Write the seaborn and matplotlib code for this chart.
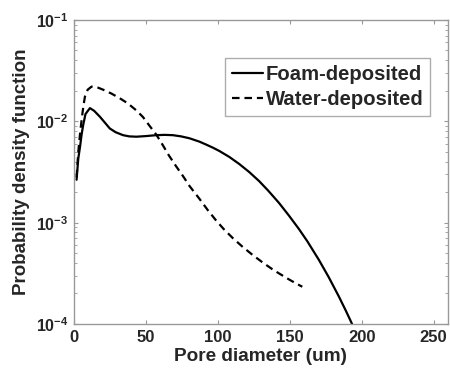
import numpy as np
import pandas as pd
import matplotlib
matplotlib.use('Agg')
import matplotlib.pyplot as plt
import seaborn as sns

# values (pore diameter in um, pdf on log scale)
foam_x = [1.8, 3.0, 4.2, 5.3, 6.4, 8.0, 11.1, 14.0, 18.0, 21.5, 24.9, 29.0, 34.1, 38.5, 43.4, 50.0,
          57.2, 63.0, 68.7, 74.5, 80.3, 87.2, 91.8, 96.5, 101.0, 108.0, 114.9, 121.8, 128.7, 135.0,
          142.6, 149.5, 156.4, 162.2, 170.2, 177.0, 184.1, 189.0, 193.3]
foam_y = [2.65e-3, 4.3e-3, 5.6e-3, 7.4e-3, 9.2e-3, 1.18e-2, 1.35e-2, 1.27e-2, 1.11e-2, 9.7e-3, 8.5e-3,
          7.8e-3, 7.3e-3, 7.1e-3, 7.05e-3, 7.15e-3, 7.3e-3, 7.35e-3, 7.3e-3, 7.1e-3, 6.8e-3, 6.3e-3,
          5.9e-3, 5.5e-3, 5.1e-3, 4.45e-3, 3.79e-3, 3.16e-3, 2.57e-3, 2.07e-3, 1.56e-3, 1.17e-3, 8.64e-4,
          6.55e-4, 4.3e-4, 2.91e-4, 1.87e-4, 1.35e-4, 1.0e-4]
water_x = [1.8, 3.0, 4.2, 5.3, 6.5, 7.6, 9.5, 12.2, 16.0, 20.3, 26.0, 31.8, 37.5, 43.4, 48.0, 52.6,
           57.2, 61.8, 66.0, 71.0, 76.0, 80.3, 87.2, 93.0, 98.8, 104.0, 110.3, 117.0, 124.1, 131.0,
           137.9, 142.6, 149.5, 154.0, 158.7]
water_y = [2.8e-3, 5.0e-3, 7.5e-3, 1.03e-2, 1.4e-2, 1.75e-2, 2.05e-2, 2.2e-2, 2.17e-2, 2.05e-2, 1.88e-2,
           1.69e-2, 1.5e-2, 1.28e-2, 1.1e-2, 9.0e-3, 7.4e-3, 5.8e-3, 4.6e-3, 3.6e-3, 2.85e-3, 2.3e-3,
           1.72e-3, 1.33e-3, 1.05e-3, 8.67e-4, 7.06e-4, 5.81e-4, 4.81e-4, 4.06e-4, 3.47e-4, 3.15e-4,
           2.75e-4, 2.53e-4, 2.33e-4]
series_names = ['Foam-deposited', 'Water-deposited']
x_ticks = [0, 50, 100, 150, 200, 250]
y_ticks = [1e-4, 1e-3, 1e-2, 1e-1]
y_tick_labels = [r'$\mathbf{10^{-4}}$', r'$\mathbf{10^{-3}}$', r'$\mathbf{10^{-2}}$', r'$\mathbf{10^{-1}}$']

df = pd.concat([
    pd.DataFrame({'d': foam_x, 'pdf': foam_y, 'sample': series_names[0]}),
    pd.DataFrame({'d': water_x, 'pdf': water_y, 'sample': series_names[1]}),
])

sns.set_style('ticks')
plt.rcParams['font.family'] = ['Liberation Sans', 'DejaVu Sans']
plt.rcParams['font.weight'] = 'bold'
plt.rcParams['mathtext.fontset'] = 'custom'
plt.rcParams['mathtext.rm'] = 'Liberation Sans:bold'
plt.rcParams['mathtext.bf'] = 'Liberation Sans:bold'

fig = plt.figure(figsize=(4.5, 3.68), dpi=100)
ax = fig.add_axes([0.1644, 0.1196, 0.8312, 0.8261])

sns.lineplot(data=df, x='d', y='pdf', style='sample', color='black', linewidth=1.6,
             dashes={series_names[0]: '', series_names[1]: (3.4, 2.2)}, ax=ax, sort=False)

ax.set_yscale('log')
ax.set_xlim(0, 260)
ax.set_ylim(1e-4, 1e-1)
ax.set_xticks(x_ticks)
ax.set_xticklabels([str(t) for t in x_ticks])
ax.set_yticks(y_ticks)
ax.set_yticklabels(y_tick_labels)
ax.tick_params(axis='both', which='both', direction='in', top=True, right=True,
               labelsize=12, color='#999999', pad=4)
ax.tick_params(axis='y', labelsize=11.5)
ax.tick_params(which='major', length=3)
ax.tick_params(which='minor', length=2)
for s in ax.spines.values():
    s.set_color('#999999')
    s.set_linewidth(1.0)

ax.set_xlabel('Pore diameter (um)', fontsize=13.7, fontweight='bold', labelpad=2.5)
ax.set_ylabel('Probability density function', fontsize=13.5, fontweight='bold', labelpad=4)

leg = ax.legend(loc='upper right', bbox_to_anchor=(0.953, 0.875), fontsize=14.6, frameon=True,
                fancybox=False, handlelength=1.5, handletextpad=0.15, borderpad=0.35,
                labelspacing=0.3, borderaxespad=0)
leg.get_frame().set_edgecolor('#999999')
leg.get_frame().set_linewidth(1.0)
for t in leg.get_texts():
    t.set_fontweight('bold')

fig.savefig('out.png', dpi=100)
